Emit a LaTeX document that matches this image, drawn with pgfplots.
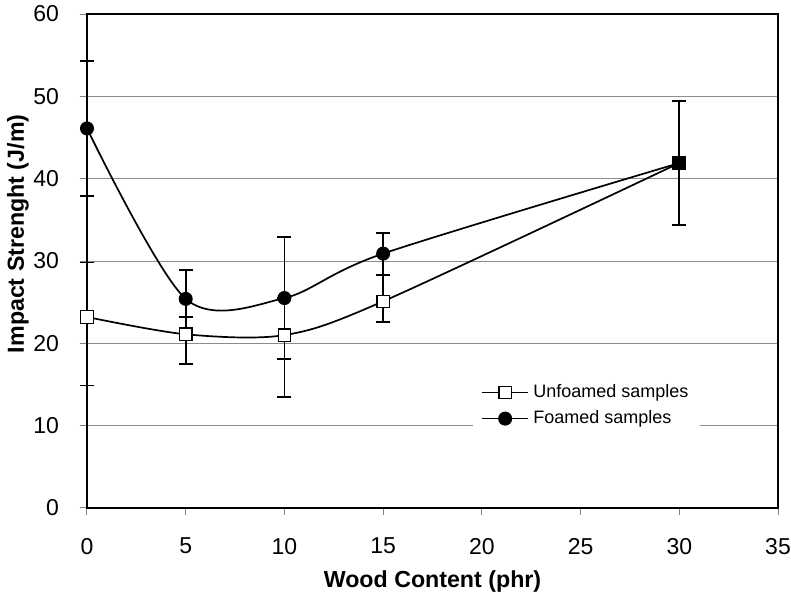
\documentclass[border=0pt]{standalone}
\usepackage{fontspec}
\setmainfont{Liberation Sans}
\usepackage{pgfplots}
\pgfplotsset{compat=1.18}
\begin{document}
\begin{tikzpicture}
\begin{axis}[
  scale only axis, clip=false,
  width=345.5pt, height=247pt,
  xmin=0, xmax=35, ymin=0, ymax=60,
  xtick={0,5,...,35}, ytick={0,10,...,60},
  tick pos=left, tick align=outside,
  major tick length=3.5pt,
  tick style={gray, line width=0.5pt},
  axis line style={black, line width=0.8pt},
  ymajorgrids, grid style={gray!90, line width=0.5pt},
  /pgf/number format/assume math mode=true,
  ticklabel style={font=\fontsize{11.5}{13}\selectfont},
  xticklabel style={yshift=-8pt},
  yticklabel style={xshift=-7pt},
  xlabel={\textbf{Wood Content (phr)}},
  ylabel={\textbf{Impact Strenght (J/m)}},
  label style={font=\fontsize{11.6}{13}\selectfont},
  xlabel style={at={(axis description cs:0.5,-0.148)}, anchor=center},
  ylabel style={at={(axis description cs:-0.1,0.555)}, anchor=center},
  legend style={at={(rel axis cs:0.558,0.275)}, anchor=north west, draw=none, fill=white,
    font=\fontsize{9}{11}\selectfont, inner sep=4pt, row sep=1pt},
  legend cell align=left,
  reverse legend,
  legend image code/.code={%
    \draw[#1, mark=none] (0cm,0cm) -- (0.82cm,0cm);
    \draw[#1, only marks] plot coordinates {(0.41cm,0cm)};},
  error bars/y dir=both, error bars/y explicit,
  error bars/error mark options={rotate=90, mark size=3.5pt, line width=0.8pt, black},
  error bars/error bar style={line width=0.8pt, black},
]
% Foamed (drawn first so that unfoamed markers lie on top)
\addplot+[black, line width=0.85pt, smooth, mark=*, mark size=3.25pt,
  mark options={fill=black, draw=black, line width=0.5pt}, mark indices={1,2,3,4}]
  coordinates {
  (0,46.1) +- (0,8.2)
  (5,25.4) +- (0,3.5)
  (10,25.5) +- (0,7.4)
  (15,30.9) += (0,2.5) -= (0,2.6)
  (30,41.9) +- (0,7.5)
  };
\addlegendentry{Foamed samples}
% Unfoamed
\addplot+[black, line width=0.85pt, smooth, mark=square*, mark size=3.1pt,
  mark options={fill=white, draw=black, line width=0.6pt}]
  coordinates {
  (0,23.2) += (0,6.6) -= (0,8.3)
  (5,21.1) += (0,2.1) -= (0,3.6)
  (10,21.0) += (0,4.5) -= (0,7.5)
  (15,25.1) += (0,3.2) -= (0,2.5)
  (30,41.9) +- (0,7.5)
  };
\addlegendentry{Unfoamed samples}
\addplot+[forget plot, only marks, black, mark=square*, mark size=3.1pt,
  mark options={fill=black, draw=black}, error bars/y dir=none]
  coordinates {(30,41.9)};
\end{axis}
\pgfresetboundingbox
\path[use as bounding box] (-43.5pt,-45pt) rectangle (352pt,254pt);
\end{tikzpicture}
\end{document}
